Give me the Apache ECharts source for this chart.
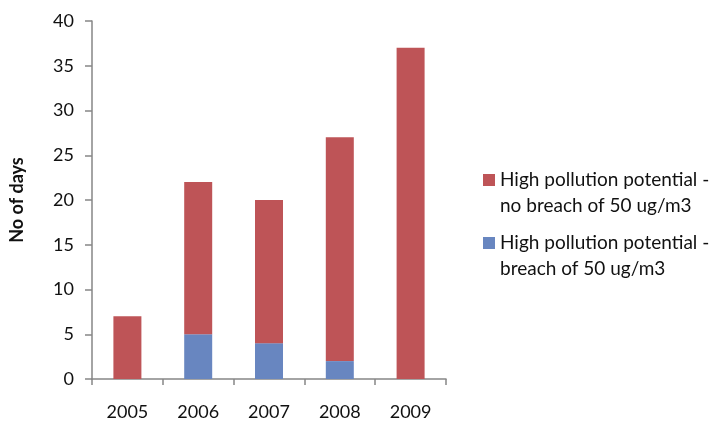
<!DOCTYPE html>
<html>
<head>
<meta charset="utf-8">
<script src="https://cdn.jsdelivr.net/npm/echarts@6/dist/echarts.min.js"></script>
<style>
html,body{margin:0;padding:0;background:#fff;}
#chart{width:710px;height:421px;}
</style>
</head>
<body>
<div id="chart"></div>
<script>
// Days with high pollution potential per year
const years = ['2005', '2006', '2007', '2008', '2009'];
const noBreach = [7, 17, 16, 25, 37];   // no breach of 50 ug/m3
const breach = [0, 5, 4, 2, 0];         // breach of 50 ug/m3
const yTicks = { min: 0, max: 40, interval: 5 };

const nameNoBreach = 'High pollution potential -\nno breach of 50 ug/m3';
const nameBreach = 'High pollution potential -\nbreach of 50 ug/m3';

const FONT = 'Lato';
const TEXT = '#111111';
const chart = echarts.init(document.getElementById('chart'), null, { renderer: 'canvas' });

chart.setOption({
  animation: false,
  backgroundColor: '#ffffff',
  grid: { left: 86, right: 264, top: 21, bottom: 41, containLabel: false },
  legend: {
    orient: 'vertical',
    left: 478,
    top: 136,
    itemWidth: 12,
    itemHeight: 12,
    itemGap: -15,
    icon: 'rect',
    selectedMode: false,
    data: [nameNoBreach, nameBreach],
    // a leading blank line keeps each swatch level with the first text line
    formatter: name => ' \n' + name,
    textStyle: {
      fontFamily: FONT,
      fontSize: 19,
      color: TEXT,
      lineHeight: 26
    }
  },
  xAxis: {
    type: 'category',
    data: years,
    axisLine: { lineStyle: { color: '#868686', width: 1.5 } },
    axisTick: { show: true, length: 6, inside: false, alignWithLabel: false, lineStyle: { color: '#868686', width: 1.5 } },
    axisLabel: { fontFamily: FONT, fontSize: 18, color: TEXT, margin: 24 }
  },
  yAxis: {
    type: 'value',
    min: yTicks.min,
    max: yTicks.max,
    interval: yTicks.interval,
    name: 'No of days',
    nameLocation: 'middle',
    nameRotate: 90,
    nameGap: 66,
    nameTextStyle: { fontFamily: FONT, fontSize: 18, fontWeight: 'bold', color: TEXT },
    axisLine: { show: true, lineStyle: { color: '#868686', width: 1.5 } },
    axisTick: { show: true, length: 7, lineStyle: { color: '#868686', width: 1.5 } },
    splitLine: { show: false },
    axisLabel: { fontFamily: FONT, fontSize: 18, color: TEXT, margin: 18 }
  },
  series: [
    {
      name: nameBreach,
      type: 'bar',
      stack: 'days',
      barWidth: 28,
      data: breach,
      itemStyle: { color: '#6886c0' }
    },
    {
      name: nameNoBreach,
      type: 'bar',
      stack: 'days',
      barWidth: 28,
      data: noBreach,
      itemStyle: { color: '#be5457' }
    }
  ]
});
</script>
</body>
</html>
